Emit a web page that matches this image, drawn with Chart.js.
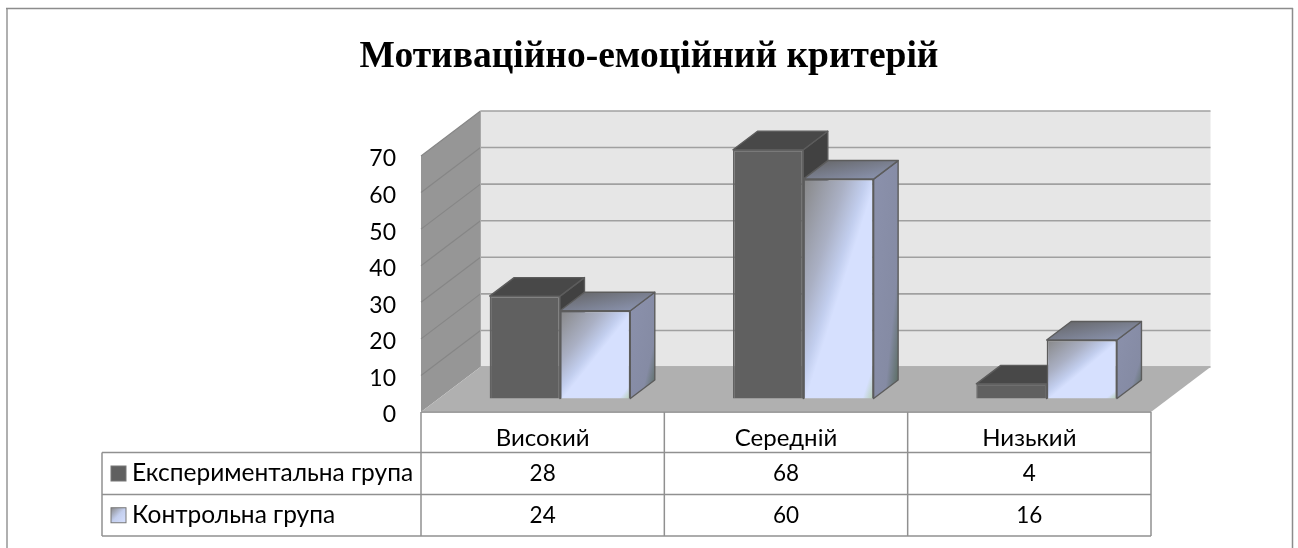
<!DOCTYPE html>
<html>
<head>
<meta charset="utf-8">
<script src="https://cdn.jsdelivr.net/npm/chart.js@4"></script>
<style>
  html, body { margin: 0; padding: 0; background: #ffffff; overflow: hidden; }
  #wrap { width: 1298px; height: 548px; }
</style>
</head>
<body>
<div id="wrap"><canvas id="canvas"></canvas></div>
<script>
var titulo = "Мотиваційно-емоційний критерій";
var categorias = ["Високий", "Середній", "Низький"];
var grupoExp = [28, 68, 4];
var grupoCtrl = [24, 60, 16];
var nombreExp = "Експериментальна група";
var nombreCtrl = "Контрольна група";

var fuente = "Lato";
// room depth and the shift of the bars into the room
var fondoX = 59.5, fondoY = -45;
var barraX = 17.3, barraY = -13.5;
var prof = { x: 24.5, y: -18.5 };

function poly(ctx, pts, fill, stroke, lw) {
  ctx.beginPath();
  ctx.moveTo(pts[0][0], pts[0][1]);
  for (var i = 1; i < pts.length; i++) ctx.lineTo(pts[i][0], pts[i][1]);
  ctx.closePath();
  if (fill) { ctx.fillStyle = fill; ctx.fill(); }
  if (stroke) { ctx.strokeStyle = stroke; ctx.lineWidth = lw || 1; ctx.lineJoin = "round"; ctx.stroke(); }
}

function linea(ctx, x1, y1, x2, y2, color, lw) {
  ctx.beginPath();
  ctx.moveTo(x1, y1);
  ctx.lineTo(x2, y2);
  ctx.strokeStyle = color;
  ctx.lineWidth = lw;
  ctx.stroke();
}

// gradient that runs from the top left corner to the bottom right one,
// with the colour bands parallel to the other diagonal of the box
function gradCaja(ctx, l, t, w, h, stops) {
  var k = 2 * w * h / (w * w + h * h);
  var g = ctx.createLinearGradient(l, t, l + h * k, t + w * k);
  stops.forEach(function (s) { g.addColorStop(s[0], s[1]); });
  return g;
}

// walls, floor and the frame of the picture
function dibujarCuarto(chart) {
  var ctx = chart.ctx, a = chart.chartArea, y = chart.scales.y;
  linea(ctx, 7, 548, 7, 8.5, "#b0b0b0", 2);
  linea(ctx, 6, 8.5, 1293, 8.5, "#8c8c8c", 1.5);
  linea(ctx, 1292.5, 8, 1292.5, 548, "#8c8c8c", 1.5);

  var bx = a.left + fondoX, rx = a.right + fondoX;
  poly(ctx, [[bx, a.top + fondoY], [rx, a.top + fondoY], [rx, a.bottom + fondoY], [bx, a.bottom + fondoY]], "#e6e6e6");
  poly(ctx, [[a.left, a.top], [bx, a.top + fondoY], [bx, a.bottom + fondoY], [a.left, a.bottom]], "#969696");
  y.ticks.forEach(function (t) {
    var py = y.getPixelForValue(t.value);
    linea(ctx, bx, py + fondoY, rx, py + fondoY, "#a0a0a0", 1.6);
    if (t.value > 0) linea(ctx, a.left, py, bx, py + fondoY, "#868686", 1.2);
  });
  poly(ctx, [[a.left, a.bottom], [a.right, a.bottom], [rx, a.bottom + fondoY], [bx, a.bottom + fondoY]], "#b0b0b0");
  linea(ctx, bx, a.top + fondoY, bx, a.bottom + fondoY, "#a8a8a8", 1);
  linea(ctx, a.left, a.bottom, a.right, a.bottom, "#a0a0a0", 2);
}

// top and side of each bar, the front is the normal bar element
function dibujarCaras(chart) {
  var ctx = chart.ctx;
  ctx.save();
  ctx.translate(barraX, barraY);
  chart.getSortedVisibleDatasetMetas().forEach(function (meta) {
    var oscuro = meta.index === 0;
    meta.data.forEach(function (b) {
      var l = b.x - b.width / 2, r = b.x + b.width / 2;
      var top = b.y, base = b.base, dx = prof.x, dy = prof.y;
      var techo = "#484848", lado = "#414141";
      if (!oscuro) {
        techo = gradCaja(ctx, l, top + dy, r + dx - l, -dy, [[0, "#636363"], [1, "#8f99b8"]]);
        lado = gradCaja(ctx, r, top + dy, dx, base - top - dy, [[0, "#8b91ac"], [0.72, "#858ba4"], [1, "#55695a"]]);
      }
      poly(ctx, [[r, top], [r + dx, top + dy], [r + dx, base + dy], [r, base]], lado, "#5c5c5c", 1.4);
      poly(ctx, [[l, top], [l + dx, top + dy], [r + dx, top + dy], [r, top]], techo, "#5c5c5c", 1.4);
      if (!oscuro) {
        var frente = gradCaja(ctx, l, top, r - l, base - top, [[0, "#878787"], [0.3, "#aab0c4"], [0.45, "#c2ceee"], [0.52, "#d6e0fe"], [0.92, "#d6e0fe"], [1, "#b4cdb0"]]);
        b.options = Object.assign({}, b.options, { backgroundColor: frente });
      }
    });
  });
  ctx.restore();
}

// data table below the floor
function dibujarTabla(chart) {
  var ctx = chart.ctx, a = chart.chartArea, x = chart.scales.x;
  var izq = 102, filas = [452.5, 494.5, 536];
  var col = [a.left];
  categorias.forEach(function (c, i) { col.push(a.left + (a.right - a.left) * (i + 1) / categorias.length); });
  var gris = "#909090";
  col.forEach(function (cx) { linea(ctx, cx, a.bottom, cx, filas[2], gris, 1.5); });
  filas.forEach(function (fy) { linea(ctx, izq, fy, a.right, fy, gris, 1.5); });
  linea(ctx, izq, filas[0], izq, filas[2], gris, 1.5);

  var series = [grupoExp, grupoCtrl], nombres = [nombreExp, nombreCtrl];
  ctx.textBaseline = "middle";
  for (var s = 0; s < 2; s++) {
    var cy = (filas[s] + filas[s + 1]) / 2;
    ctx.fillStyle = "#000000";
    ctx.textAlign = "left";
    ctx.font = "24.5px " + fuente;
    ctx.fillText(nombres[s], 132, cy);
    ctx.textAlign = "center";
    ctx.font = "22.5px " + fuente;
    series[s].forEach(function (v, i) {
      ctx.fillText(String(v), x.getPixelForTick(i), cy);
    });
    // legend key
    var kx = 111, ky = cy - 7.5, kt = 15;
    ctx.fillStyle = s === 0 ? "#606060" : gradCaja(ctx, kx, ky, kt, kt, [[0, "#878787"], [0.5, "#c4cfee"], [1, "#d6e0fe"]]);
    ctx.fillRect(kx, ky, kt, kt);
    ctx.strokeStyle = "#777777";
    ctx.lineWidth = 1;
    ctx.strokeRect(kx, ky, kt, kt);
  }
}

var cubo3d = {
  id: "cubo3d",
  beforeDatasetsDraw: function (chart) {
    dibujarCuarto(chart);
    dibujarCaras(chart);
    chart.ctx.save();
    chart.ctx.translate(barraX, barraY);
  },
  afterDatasetsDraw: function (chart) {
    chart.ctx.restore();
    dibujarTabla(chart);
  }
};

new Chart(document.getElementById("canvas").getContext("2d"), {
  type: "bar",
  data: {
    labels: categorias,
    datasets: [
      { label: nombreExp, data: grupoExp, backgroundColor: "#606060", borderColor: "#626262", borderWidth: 1.5, clip: false },
      { label: nombreCtrl, data: grupoCtrl, backgroundColor: "#d6e0fe", borderColor: "#5c5c5c", borderWidth: 1.5, clip: false }
    ]
  },
  plugins: [cubo3d],
  options: {
    responsive: true,
    maintainAspectRatio: false,
    animation: false,
    layout: { padding: 0 },
    categoryPercentage: 0.578,
    barPercentage: 1,
    plugins: {
      legend: { display: false },
      tooltip: { enabled: false },
      title: {
        display: true,
        text: titulo,
        color: "#000000",
        font: { family: "Liberation Serif", size: 37.5, weight: "bold", lineHeight: 1.2 },
        padding: { top: 35, bottom: 76 }
      }
    },
    scales: {
      x: {
        position: "bottom",
        grid: { display: false },
        border: { display: false },
        ticks: { color: "#000000", font: { family: fuente, size: 24 }, padding: 4, maxRotation: 0 },
        afterFit: function (s) { s.height = 136; }
      },
      y: {
        position: "left",
        min: 0,
        max: 70,
        grid: { display: false, drawTicks: false },
        border: { display: false },
        ticks: { stepSize: 10, color: "#000000", font: { family: fuente, size: 23 }, padding: 25, labelOffset: 3 },
        afterFit: function (s) { s.width = 421; }
      },
      // empty axis, only keeps the plot clear of the right side
      margen: {
        position: "right",
        grid: { display: false, drawTicks: false },
        border: { display: false },
        ticks: { display: false },
        afterFit: function (s) { s.width = 147; }
      }
    }
  }
});
</script>
</body>
</html>
